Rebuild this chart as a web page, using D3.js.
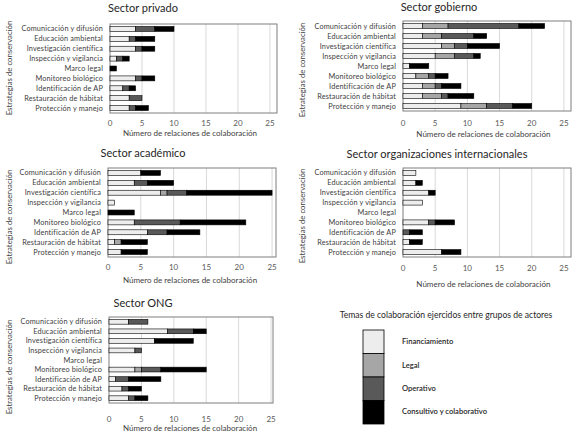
<!DOCTYPE html>
<html>
<head>
<meta charset="utf-8">
<script src="https://cdn.jsdelivr.net/npm/d3@7"></script>
<style>
  body { margin: 0; background: #fff; }
  svg { display: block; font-family: Lato, "Liberation Sans", sans-serif; }
</style>
</head>
<body>
<svg id="chart" width="581" height="434"></svg>
<script>
// Categorías (estrategias de conservación)
const categorias = [
  "Comunicación y difusión", "Educación ambiental", "Investigación científica",
  "Inspección y vigilancia", "Marco legal", "Monitoreo biológico",
  "Identificación de AP", "Restauración de hábitat", "Protección y manejo"
];
const temas = ["Financiamiento", "Legal", "Operativo", "Consultivo y colaborativo"];
const colores = ["#ededed", "#a6a6a6", "#595959", "#000000"];
const ticksX = [0, 5, 10, 15, 20, 25];

// Valores por sector: [financiamiento, legal, operativo, consultivo]
const privado = [
  [4, 3, 4, 1, 0, 4, 2, 3, 3],
  [0, 0, 0, 0, 0, 0, 0, 0, 0],
  [3, 1, 1, 1, 0, 1, 1, 2, 1],
  [3, 3, 2, 1, 1, 2, 1, 0, 2]
];
const gobierno = [
  [3, 3, 6, 5, 1, 2, 3, 3, 9],
  [4, 3, 2, 3, 0, 2, 2, 3, 4],
  [11, 5, 2, 3, 0, 1, 1, 1, 4],
  [4, 2, 5, 1, 3, 2, 3, 4, 3]
];
const academico = [
  [5, 4, 8, 1, 0, 4, 6, 1, 2],
  [0, 0, 1, 0, 0, 0, 0, 1, 0],
  [0, 2, 3, 0, 0, 7, 3, 0, 0],
  [3, 4, 13, 0, 4, 10, 5, 4, 4]
];
const internacional = [
  [2, 2, 4, 3, 0, 4, 0, 1, 6],
  [0, 0, 0, 0, 0, 0, 0, 0, 0],
  [0, 0, 0, 0, 0, 1, 1, 0, 0],
  [0, 1, 1, 0, 0, 3, 2, 2, 3]
];
const ong = [
  [3, 9, 7, 4, 0, 4, 1, 2, 3],
  [0, 0, 0, 0, 0, 1, 0, 0, 0],
  [3, 4, 0, 1, 0, 3, 2, 1, 1],
  [0, 2, 6, 0, 0, 7, 5, 2, 2]
];

// Posición de cada panel
const paneles = [
  { titulo: "Sector privado", datos: privado, x0: 110, x1: 277, max: 26.1, top: 24, bottom: 113, tx: 143, ty: 12, tick: 126, eje: 136, ey: 68 },
  { titulo: "Sector gobierno", datos: gobierno, x0: 403, x1: 571, max: 26.1, top: 21, bottom: 111, tx: 439, ty: 10.5, tick: 126, eje: 137, ey: 70 },
  { titulo: "Sector académico", datos: academico, x0: 108, x1: 276, max: 25.6, top: 168, bottom: 257, tx: 143, ty: 157, tick: 270, eje: 283, ey: 217 },
  { titulo: "Sector organizaciones internacionales", datos: internacional, x0: 403, x1: 571, max: 26.1, top: 168, bottom: 257, tx: 437, ty: 158, tick: 271, eje: 287, ey: 216 },
  { titulo: "Sector ONG", datos: ong, x0: 109, x1: 273, max: 25.3, top: 317, bottom: 403, tx: 143, ty: 307, tick: 422, eje: 431, ey: 367 }
];

const svg = d3.select("#chart");

paneles.forEach(p => {
  const g = svg.append("g");

  const x = d3.scaleLinear().domain([0, p.max]).range([p.x0, p.x1]);
  const y = d3.scaleBand().domain(categorias).range([p.top, p.bottom])
    .paddingInner(0.5).paddingOuter(0.25);

  // líneas de cuadrícula
  g.selectAll(".grid").data(ticksX.slice(1)).enter().append("line")
    .attr("x1", d => x(d)).attr("x2", d => x(d))
    .attr("y1", p.top).attr("y2", p.bottom)
    .attr("stroke", "#d9d9d9").attr("stroke-width", 1);

  // marco del área de trazado
  g.append("rect")
    .attr("x", p.x0).attr("y", p.top)
    .attr("width", p.x1 - p.x0).attr("height", p.bottom - p.top)
    .attr("fill", "none").attr("stroke", "#7f7f7f").attr("stroke-width", 1);

  // barras apiladas
  const series = d3.stack().keys(d3.range(temas.length))
    .value((d, k) => p.datos[k][d])(d3.range(categorias.length));

  series.forEach((s, k) => {
    g.selectAll(".b" + k).data(s.filter(d => d[1] > d[0])).enter().append("rect")
      .attr("x", d => x(d[0]))
      .attr("width", d => x(d[1]) - x(d[0]))
      .attr("y", d => y(categorias[d.data]))
      .attr("height", y.bandwidth())
      .attr("fill", colores[k])
      .attr("stroke", "#000").attr("stroke-width", 0.6);
  });

  // etiquetas de categorías
  g.selectAll(".cat").data(categorias).enter().append("text")
    .attr("x", p.x0 - 7)
    .attr("y", d => y(d) + y.bandwidth() / 2)
    .attr("dy", "0.35em")
    .attr("text-anchor", "end")
    .attr("font-size", 7.3)
    .attr("letter-spacing", 0.15)
    .attr("fill", "#404040")
    .text(d => d);

  // marcas del eje X
  g.selectAll(".tick").data(ticksX).enter().append("text")
    .attr("x", d => x(d)).attr("y", p.tick)
    .attr("text-anchor", "middle")
    .attr("font-size", 8).attr("fill", "#595959")
    .text(d => d);

  g.append("text")
    .attr("x", x(12.5)).attr("y", p.eje)
    .attr("text-anchor", "middle")
    .attr("font-size", 8).attr("fill", "#404040")
    .text("Número de relaciones de colaboración");

  // título del eje Y
  g.append("text")
    .attr("transform", `translate(${p.x0 < 200 ? 12 : 305},${p.ey}) rotate(-90)`)
    .attr("text-anchor", "middle")
    .attr("font-size", 7.8).attr("fill", "#404040")
    .text("Estrategias de conservación");

  // título del panel
  g.append("text")
    .attr("x", p.tx).attr("y", p.ty)
    .attr("text-anchor", "middle")
    .attr("font-size", 11).attr("fill", "#262626")
    .text(p.titulo);
});

// Leyenda
const leyenda = svg.append("g");
leyenda.append("text")
  .attr("x", 446).attr("y", 318)
  .attr("text-anchor", "middle")
  .attr("font-size", 8.6).attr("fill", "#262626")
  .text("Temas de colaboración ejercidos entre grupos de actores");

const ly = d3.scaleBand().domain(temas).range([330, 424]);
leyenda.selectAll(".sw").data(temas).enter().append("rect")
  .attr("x", 363).attr("width", 21)
  .attr("y", d => ly(d)).attr("height", ly.bandwidth())
  .attr("fill", (d, i) => colores[i])
  .attr("stroke", "#000").attr("stroke-width", 0.8);
leyenda.selectAll(".lt").data(temas).enter().append("text")
  .attr("x", 402)
  .attr("y", (d, i) => ly(d) + ly.bandwidth() / 2 + (i === 3 ? -1 : 0))
  .attr("dy", "0.35em")
  .attr("font-size", 7.6).attr("font-weight", 600).attr("fill", "#262626")
  .text(d => d);
</script>
</body>
</html>
